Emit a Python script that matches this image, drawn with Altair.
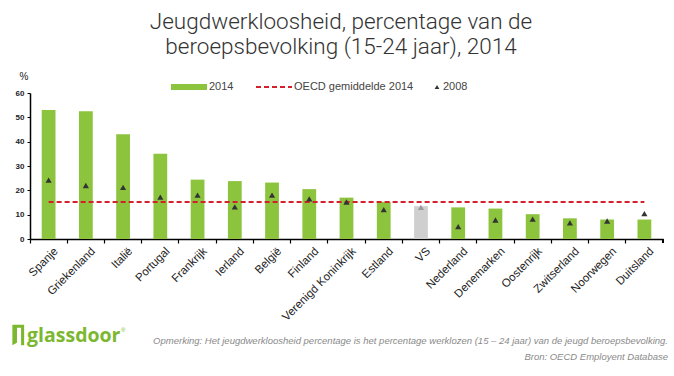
import altair as alt
import pandas as pd

countries = ["Spanje", "Griekenland", "Italië", "Portugal", "Frankrijk", "Ierland", "België",
             "Finland", "Verenigd Koninkrijk", "Estland", "VS", "Nederland", "Denemarken",
             "Oostenrijk", "Zwitserland", "Noorwegen", "Duitsland"]
v2014 = [53.0, 52.5, 43.0, 35.0, 24.4, 23.8, 23.2, 20.5, 17.0, 15.3, 13.5, 13.0, 12.5, 10.2, 8.5, 8.0, 8.0]
v2008 = [24.2, 22.0, 21.2, 17.2, 18.0, 13.2, 18.0, 16.5, 15.2, 12.1, 13.0, 5.1, 7.8, 8.2, 6.6, 7.4, 10.4]
oecd_2014 = 15.2
highlight = ["VS"]

title_lines = ["Jeugdwerkloosheid, percentage van de", "beroepsbevolking (15-24 jaar), 2014"]
footer_lines = ["Opmerking: Het jeugdwerkloosheid percentage is het percentage werklozen (15 – 24 jaar) van de jeugd beroepsbevolking.",
                "Bron: OECD Employent Database"]

df = pd.DataFrame({
    "country": countries,
    "v2014": v2014,
    "v2008": v2008,
    "oecd": [oecd_2014] * len(countries),
    "grp": ["hl" if c in highlight else "n" for c in countries],
})

GREEN = "#8cc43e"
GREY = "#cfcfcf"
RED = "#d3202c"
DARK = "#333333"
FONT = "Liberation Sans"

W, H = 633, 146
step = W / len(countries)

xaxis = alt.Axis(labelAngle=-45, bandPosition=0, labelOffset=step / 2 - 15,
                 labelFontSize=11.5, labelColor="#222", labelFont=FONT,
                 labelPadding=2, tickSize=4, tickColor="#000",
                 domainColor="#000", domainWidth=1.5, tickWidth=1.2)
xscale = alt.Scale(paddingInner=0, paddingOuter=0)
yscale = alt.Scale(domain=[0, 60])
yaxis = alt.Axis(values=[0, 10, 20, 30, 40, 50, 60], title=None, labelFontSize=8,
                 labelFontWeight="bold", labelColor="#222", labelFont=FONT,
                 tickSize=3, tickColor="#000", domainColor="#000", domainWidth=1.5,
                 labelPadding=3, grid=False, labelOverlap=False)

def X():
    return alt.X("country:N", sort=None, title=None, scale=xscale, axis=xaxis)

def Y(field):
    return alt.Y(field, type="quantitative", scale=yscale, axis=yaxis)

base = alt.Chart(df)

bars = base.mark_bar(width=alt.RelativeBandSize(0.37)).encode(
    x=X(),
    y=Y("v2014"),
    color=alt.condition(alt.datum.grp == "hl", alt.value(GREY), alt.value(GREEN)),
)

oecd = base.mark_line(color=RED, strokeDash=[5, 3], strokeWidth=2).encode(
    x=X(), y=Y("oecd")
)

tri = base.mark_point(shape="triangle-up", filled=True, size=38, opacity=1).encode(
    x=X(),
    y=Y("v2008"),
    color=alt.condition(alt.datum.grp == "hl", alt.value("#9a9a9a"), alt.value(DARK)),
)

endtick = alt.Chart(df).mark_rule(color="#000", strokeWidth=1.2).encode(
    x=alt.value(W), y=alt.value(H), y2=alt.value(H + 4)
)

def txt(s, x, y, size=11, color="#333", align="left", baseline="middle", weight="normal",
        style="normal", font=FONT):
    return alt.Chart(pd.DataFrame({"t": [s]})).mark_text(
        align=align, baseline=baseline, fontSize=size, color=color, fontWeight=weight,
        fontStyle=style, font=font
    ).encode(text="t:N", x=alt.value(x), y=alt.value(y))

layers = [bars, oecd, tri, endtick]

# title
layers.append(txt(title_lines[0], 311, -64, size=22.5, color="#333", align="center", baseline="alphabetic",
                  font="Roboto", weight=300))
layers.append(txt(title_lines[1], 311, -39, size=22.5, color="#333", align="center", baseline="alphabetic",
                  font="Roboto", weight=300))

# percent sign
layers.append(txt("%", -6, -16, size=10, color="#222", align="center"))

# legend
leg_y = -6
layers.append(alt.Chart(df.head(1)).mark_rect(color=GREEN).encode(
    x=alt.value(141), x2=alt.value(177), y=alt.value(leg_y - 3), y2=alt.value(leg_y + 3)))
layers.append(txt("2014", 179, leg_y, size=11, color="#444"))
layers.append(alt.Chart(df.head(1)).mark_rule(color=RED, strokeDash=[5, 3], strokeWidth=2).encode(
    x=alt.value(226), x2=alt.value(262), y=alt.value(leg_y)))
layers.append(txt("OECD gemiddelde 2014", 264, leg_y, size=11, color="#444"))
layers.append(alt.Chart(df.head(1)).mark_point(shape="triangle-up", filled=True, size=22, color=DARK, opacity=1).encode(
    x=alt.value(407), y=alt.value(leg_y)))
layers.append(txt("2008", 413, leg_y, size=11, color="#444"))

# logo
door = "M-0.55,-1 L0.6,-1 L0.6,1 L0.3,1 L0.3,-0.7 L-0.1,-0.7 L-0.1,0.75 L-0.55,1 Z"
layers.append(alt.Chart(df.head(1)).mark_point(shape=door, filled=True, size=420, color="#7cb82f", opacity=1).encode(
    x=alt.value(-12), y=alt.value(242)))
layers.append(txt("glassdoor", -3, 249, size=19.5, color="#7cb82f", weight="bold", baseline="alphabetic",
                  font="Open Sans"))
layers.append(txt("®", 91, 237, size=6, color="#7cb82f"))

# footer
layers.append(txt(footer_lines[0], 638, 248, size=9.5, color="#8a8a8a", align="right", style="italic"))
layers.append(txt(footer_lines[1], 638, 264, size=9.5, color="#8a8a8a", align="right", style="italic"))

chart = alt.layer(*layers).properties(
    width=W, height=H,
    autosize=alt.AutoSizeParams(type="none"),
    padding={"left": 30, "top": 93, "right": 11, "bottom": 137},
    background="white",
).configure_view(stroke=None)

chart.save("out.html", embed_options={"renderer": "svg", "actions": False})
